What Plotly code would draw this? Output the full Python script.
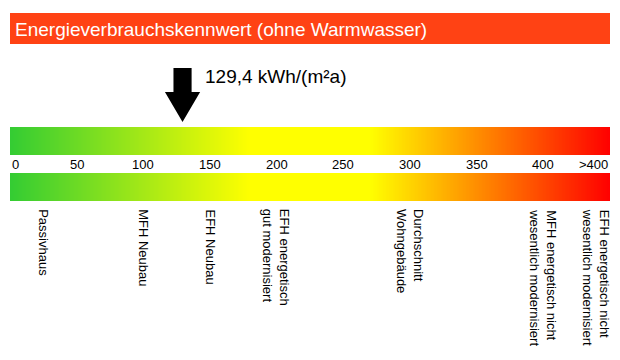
import numpy as np
import plotly.graph_objects as go

# ---- data ----
title_text = "Energieverbrauchskennwert (ohne Warmwasser)"
kennwert = 129.4
unit = "kWh/(m²a)"
scale_max = 450
tick_values = [0, 50, 100, 150, 200, 250, 300, 350, 400, 450]
tick_labels = ["0", "50", "100", "150", "200", "250", "300", "350", "400", ">400"]
ref_names = [
    "Passivhaus",
    "MFH Neubau",
    "EFH Neubau",
    "EFH energetisch<br>gut modernisiert",
    "Durchschnitt<br>Wohngebäude",
    "MFH energetisch nicht<br>wesentlich modernisiert",
    "EFH energetisch nicht<br>wesentlich modernisiert",
]
ref_values = [25, 100, 150, 200, 300, 400, 440]

# ---- styling ----
FONT = "Liberation Sans, Arial, sans-serif"
colorscale = [[0.0, "#33cc33"], [0.4, "#ffff00"], [0.6, "#ffff00"], [1.0, "#ff0000"]]
title_color = "#ff4214"
bars_y = [(127, 155), (173, 201)]

fig = go.Figure()

n = 450
x_edges = np.linspace(0, scale_max, n + 1)
z_row = ((x_edges[:-1] + x_edges[1:]) / 2 / scale_max).tolist()
for (y0, y1) in bars_y:
    fig.add_trace(go.Heatmap(
        x=x_edges, y=[y0, y1], z=[z_row], zmin=0, zmax=1,
        colorscale=colorscale, showscale=False, hoverinfo="skip",
    ))

shapes = []
# title bar
shapes.append(dict(type="rect", xref="x", yref="y", x0=-0.8, x1=scale_max, y0=13, y1=44,
                   fillcolor=title_color, line=dict(width=0), layer="below"))
# arrow
sw, hw = 6.8, 13.2
v = kennwert
path = (f"M {v-sw} 68 L {v+sw} 68 L {v+sw} 92 L {v+hw} 92 L {v} 122 "
        f"L {v-hw} 92 L {v-sw} 92 Z")
shapes.append(dict(type="path", xref="x", yref="y", path=path,
                   fillcolor="black", line=dict(width=0)))

annotations = []
annotations.append(dict(x=0, y=29, xref="x", yref="y", text=title_text, showarrow=False,
                        xanchor="left", yanchor="middle", xshift=3,
                        font=dict(family=FONT, size=19, color="white")))
annotations.append(dict(x=kennwert, y=76, xref="x", yref="y",
                        text=f"{kennwert:.1f}".replace(".", ",") + " " + unit,
                        showarrow=False, xanchor="left", yanchor="middle", xshift=20,
                        font=dict(family=FONT, size=19, color="black")))
for tv, tl in zip(tick_values, tick_labels):
    anchor = "center"
    if tv == tick_values[0]:
        anchor = "left"
    elif tv == tick_values[-1]:
        anchor = "right"
    annotations.append(dict(x=tv, y=164, xref="x", yref="y", text=tl, showarrow=False,
                            xanchor=anchor, yanchor="middle",
                            font=dict(family=FONT, size=13, color="black")))
for name, rv in zip(ref_names, ref_values):
    annotations.append(dict(x=rv, y=207, xref="x", yref="y", text=name, showarrow=False,
                            textangle=90, xanchor="center", yanchor="top", align="left",
                            font=dict(family=FONT, size=13, color="black")))

fig.update_layout(
    width=620, height=360,
    margin=dict(l=0, r=0, t=0, b=0),
    paper_bgcolor="white", plot_bgcolor="white",
    xaxis=dict(range=[0, scale_max], domain=[10/620, 610/620], visible=False, fixedrange=True),
    yaxis=dict(range=[360, 0], domain=[0, 1], visible=False, fixedrange=True),
    shapes=shapes, annotations=annotations, showlegend=False,
)

fig.write_html("out.html")
